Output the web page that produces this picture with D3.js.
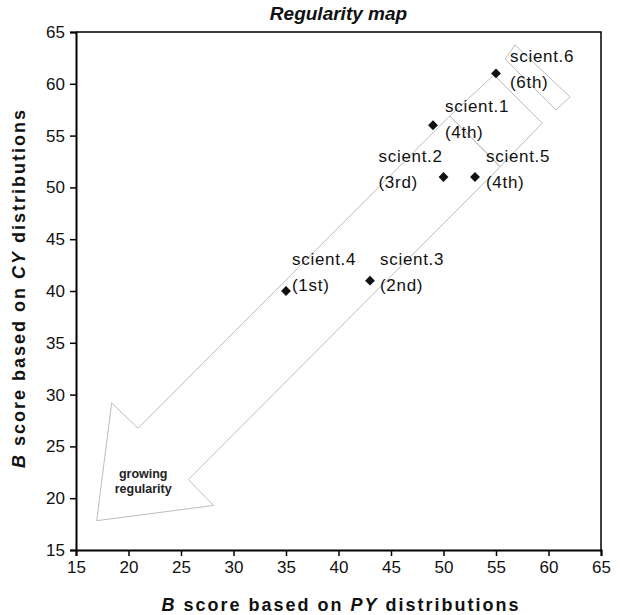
<!DOCTYPE html>
<html>
<head>
<meta charset="utf-8">
<script src="https://cdn.jsdelivr.net/npm/d3@7"></script>
<style>
  body { margin: 0; background: #fff; }
  text { font-family: "Liberation Sans", Arial, sans-serif; }
</style>
</head>
<body>
<div class="chart"></div>
<script>
// scientists: B score on PY (x) and CY (y) distributions
const names  = ['scient.1', 'scient.2', 'scient.3', 'scient.4', 'scient.5', 'scient.6'];
const ranks  = ['(4th)', '(3rd)', '(2nd)', '(1st)', '(4th)', '(6th)'];
const pyScore = [49, 50, 43, 35, 53, 55];
const cyScore = [56, 51, 41, 40, 51, 61];
const ticks = [15, 20, 25, 30, 35, 40, 45, 50, 55, 60, 65];

// label placement (px from marker)
const labelDx = [12, -65, 10, 6, 11, 14];
const labelDy = [-17, -19, -20, -30, -19, -15];

// "growing regularity" block arrow, in data units
const arrowBody = [[16.97, 17.83], [28.1, 19.3], [25.7, 21.8], [55.4, 52.0],
                   [50.6, 56.9], [20.9, 26.75], [18.4, 29.2]];
const stripe1 = [[50.6, 56.9], [54.8, 60.85], [59.4, 56.2], [55.4, 52.0]];
const stripe2 = [[55.86, 62.39], [56.81, 63.75], [62.05, 58.73], [60.71, 57.47]];

const data = names.map((n, i) => ({name: n, rank: ranks[i], x: pyScore[i], y: cyScore[i]}));

const width = 620, height = 615;
const mLeft = 76, mRight = 601, mTop = 32, mBottom = 550;

const svg = d3.select('.chart').append('svg')
    .attr('width', width)
    .attr('height', height);

const x = d3.scaleLinear().domain([15, 65]).range([mLeft, mRight]);
const y = d3.scaleLinear().domain([15, 65]).range([mBottom, mTop]);

// plot frame (top + right)
svg.append('path')
    .attr('d', `M${mLeft},${mTop}H${mRight}V${mBottom}`)
    .attr('fill', 'none')
    .attr('stroke', '#000')
    .attr('stroke-width', 1.5);

// arrow
const line = d3.line().x(d => x(d[0])).y(d => y(d[1]));
[arrowBody, stripe1, stripe2].forEach(p => {
    svg.append('path')
        .attr('d', line(p) + 'Z')
        .attr('fill', 'none')
        .attr('stroke', '#bdbdbd')
        .attr('stroke-width', 1);
});

svg.append('text')
    .attr('x', x(21.4))
    .attr('y', y(21.95))
    .attr('text-anchor', 'middle')
    .attr('font-size', 12.5)
    .attr('font-weight', 'bold')
    .attr('fill', '#222')
    .selectAll('tspan')
    .data(['growing', 'regularity'])
    .enter()
    .append('tspan')
    .attr('x', x(21.4))
    .attr('dy', (d, i) => i ? 15 : 0)
    .text(d => d);

// axes
const xAxis = svg.append('g')
    .attr('transform', `translate(0,${mBottom})`)
    .call(d3.axisBottom(x).tickValues(ticks).tickSize(6).tickPadding(5));
const yAxis = svg.append('g')
    .attr('transform', `translate(${mLeft},0)`)
    .call(d3.axisLeft(y).tickValues(ticks).tickSize(6).tickPadding(5));
[xAxis, yAxis].forEach(a => {
    a.select('.domain').attr('stroke', '#000').attr('stroke-width', 2);
    a.selectAll('.tick line').attr('stroke', '#000').attr('stroke-width', 1.5);
    a.selectAll('.tick text')
        .attr('font-family', '"Liberation Sans", Arial, sans-serif')
        .attr('font-size', 17)
        .attr('fill', '#111');
});

// points
svg.selectAll('path.pt')
    .data(data)
    .enter()
    .append('path')
    .attr('class', 'pt')
    .attr('d', d3.symbol(d3.symbolDiamond2, 62))
    .attr('transform', d => `translate(${x(d.x)},${y(d.y)})`)
    .attr('fill', '#111');

// labels
const lbl = svg.selectAll('text.lbl')
    .data(data)
    .enter()
    .append('text')
    .attr('class', 'lbl')
    .attr('font-size', 17)
    .attr('letter-spacing', 0.7)
    .attr('fill', '#111')
    .attr('dominant-baseline', 'middle');
lbl.append('tspan')
    .attr('x', (d, i) => x(d.x) + labelDx[i])
    .attr('y', (d, i) => y(d.y) + labelDy[i])
    .text(d => d.name);
lbl.append('tspan')
    .attr('x', (d, i) => x(d.x) + labelDx[i])
    .attr('y', (d, i) => y(d.y) + labelDy[i] + 26)
    .text(d => d.rank);

// titles
svg.append('text')
    .attr('x', (mLeft + mRight) / 2)
    .attr('y', 20)
    .attr('text-anchor', 'middle')
    .attr('font-size', 19)
    .attr('font-weight', 'bold')
    .attr('font-style', 'italic')
    .attr('fill', '#111')
    .text('Regularity map');

const xt = svg.append('text')
    .attr('x', 341)
    .attr('y', 611)
    .attr('text-anchor', 'middle')
    .attr('font-size', 18)
    .attr('font-weight', 'bold')
    .attr('letter-spacing', 2)
    .attr('fill', '#111');
xt.append('tspan').attr('font-style', 'italic').text('B');
xt.append('tspan').text(' score based on  ');
xt.append('tspan').attr('font-style', 'italic').text('PY');
xt.append('tspan').text(' distributions');

const yt = svg.append('text')
    .attr('transform', 'translate(25,288) rotate(-90)')
    .attr('text-anchor', 'middle')
    .attr('font-size', 18)
    .attr('font-weight', 'bold')
    .attr('letter-spacing', 2)
    .attr('fill', '#111');
yt.append('tspan').attr('font-style', 'italic').text('B');
yt.append('tspan').text(' score based on ');
yt.append('tspan').attr('font-style', 'italic').text('CY');
yt.append('tspan').text(' distributions');
</script>
</body>
</html>
